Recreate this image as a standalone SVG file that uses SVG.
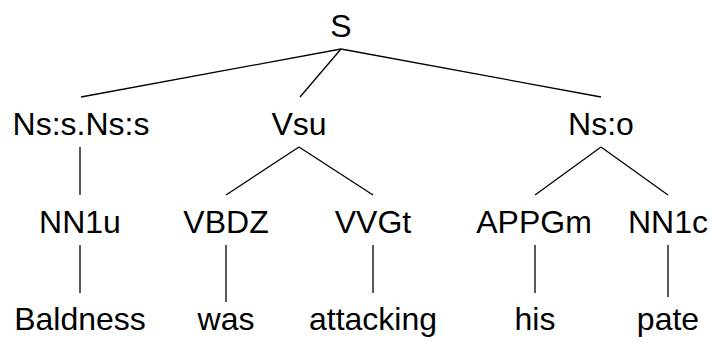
<svg xmlns="http://www.w3.org/2000/svg" width="716" height="342" viewBox="0 0 716 342">
<style>
text{font-family:"Liberation Sans",Arial,sans-serif;font-size:32px;fill:#000;text-anchor:middle}
.e line{stroke:#000;stroke-width:1.3;stroke-linecap:butt}
</style>
<rect width="716" height="342" fill="#fff"/>
<g class="e" id="connectors">
<line x1="341" y1="49" x2="81" y2="97"/>
<line x1="341" y1="49" x2="300" y2="97"/>
<line x1="341" y1="49" x2="601" y2="97"/>
<line x1="80" y1="147" x2="80" y2="195"/>
<line x1="299" y1="147" x2="226" y2="195"/>
<line x1="299" y1="147" x2="373" y2="195"/>
<line x1="601" y1="147" x2="535" y2="195"/>
<line x1="601" y1="147" x2="668" y2="195"/>
<line x1="80" y1="245" x2="80" y2="293"/>
<line x1="226" y1="245" x2="226" y2="302"/>
<line x1="373" y1="245" x2="373" y2="293"/>
<line x1="535" y1="245" x2="535" y2="293"/>
<line x1="668" y1="245" x2="668" y2="297"/>
</g>
<g id="n-S"><text x="341" y="37">S</text></g>
<g id="n-Ns"><text x="81" y="135">Ns:s.Ns:s</text></g>
<g id="n-Vsu"><text x="299" y="135">Vsu</text></g>
<g id="n-Nso"><text x="601" y="135">Ns:o</text></g>
<g id="n-NN1u"><text x="80" y="233">NN1u</text></g>
<g id="n-VBDZ"><text x="226" y="233">VBDZ</text></g>
<g id="n-VVGt"><text x="373" y="233">VVGt</text></g>
<g id="n-APPGm"><text x="534" y="233">APPGm</text></g>
<g id="n-NN1c"><text x="668" y="233">NN1c</text></g>
<g id="w-Baldness"><text x="80" y="330">Baldness</text></g>
<g id="w-was"><text x="226" y="330">was</text></g>
<g id="w-attacking"><text x="373" y="330">attacking</text></g>
<g id="w-his"><text x="535" y="330">his</text></g>
<g id="w-pate"><text x="668" y="330">pate</text></g>
</svg>
